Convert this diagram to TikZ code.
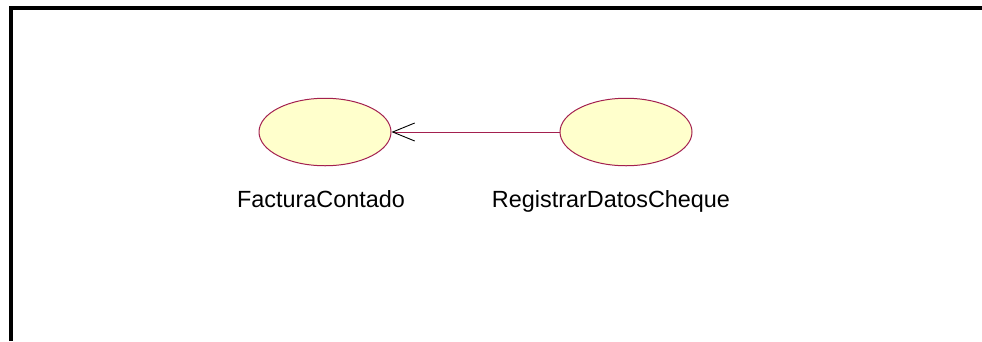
\documentclass[tikz,border=0pt]{standalone}
\usepackage{fontspec}
\setmainfont{Liberation Sans}
\usetikzlibrary{arrows.meta,positioning,shapes.geometric}
\definecolor{ucfill}{HTML}{FFFFCC}
\definecolor{ucline}{HTML}{A3204F}

\begin{document}
\begin{tikzpicture}[
  x=1pt, y=-1pt,
  UC/.style={
    ellipse, draw=ucline, fill=ucfill, line width=1pt,
    minimum width=132pt, minimum height=67.5pt, inner sep=0pt},
  UClabel/.style={
    font=\fontsize{23.4}{28}\selectfont, inner sep=0pt,
    text height=17pt, text depth=5pt},
  dep/.style={
    draw=ucline, line width=0.9pt,
    -{Straight Barb[length=22pt,width=18pt,color=black,line width=0.9pt]}},
]
\useasboundingbox (0,0) rectangle (982,341);

%% FRAME
\draw[line width=4pt, black] (10.5,341) -- (10.5,7.5) -- (982,7.5);

%% USE CASES
\node[UC] (FC) at (325,132) {};
\node[UC] (RDC) at (626,132) {};

\node[UClabel, below=24pt of FC, xshift=-4pt] (FClbl) {FacturaContado};
\node[UClabel, below=24pt of RDC, xshift=-15pt] (RDClbl) {RegistrarDatosCheque};

%% CONNECTOR
\draw[dep] (RDC.west) -- (FC.east);

\end{tikzpicture}
\end{document}
